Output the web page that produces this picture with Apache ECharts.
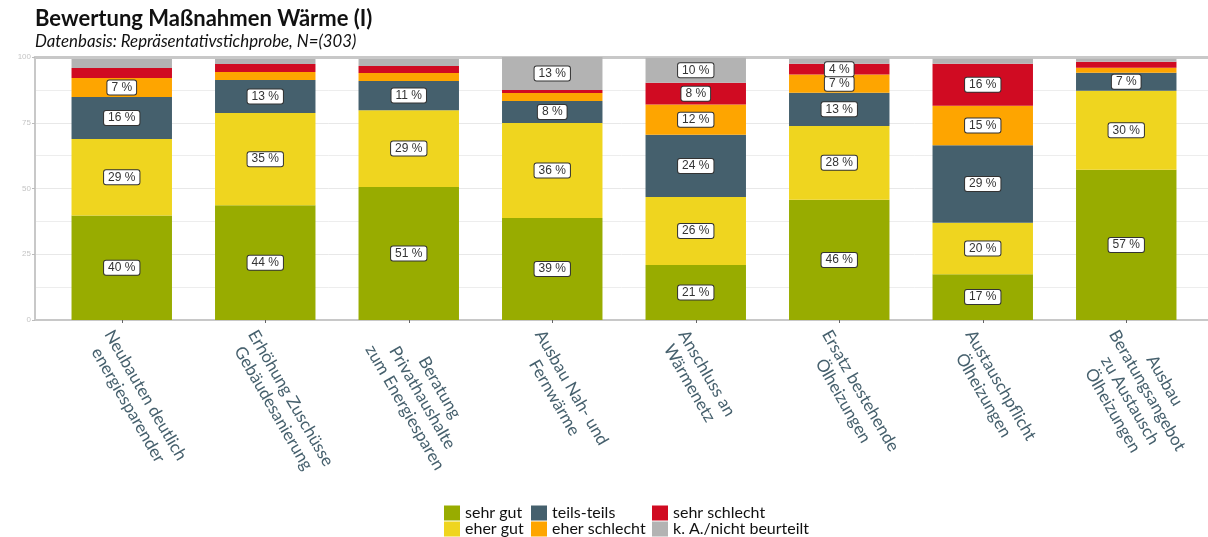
<!DOCTYPE html>
<html>
<head>
<meta charset="utf-8">
<script src="https://cdn.jsdelivr.net/npm/echarts@6/dist/echarts.min.js"></script>
<style>
  html, body { margin: 0; padding: 0; background: #fff; }
  #chart { width: 1208px; height: 537px; }
</style>
</head>
<body>
<div id="chart"></div>
<script>
const categories = [
  'Neubauten deutlich\nenergiesparender',
  'Erhöhung Zuschüsse\nGebäudesanierung',
  'Beratung\nPrivathaushalte\nzum Energiesparen',
  'Ausbau Nah- und\nFernwärme',
  'Anschluss an\nWärmenetz',
  'Ersatz bestehende\nÖlheizungen',
  'Austauschpflicht\nÖlheizungen',
  'Ausbau\nBeratungsangebot\nzu Austausch\nÖlheizungen'
];

// Anteile in %
const sehrGut      = [39.7, 43.6, 50.6, 38.8, 20.9, 45.7, 17.4, 57.1];
const eherGut      = [29.1, 35.1, 29.2, 36.1, 25.9, 28.1, 19.6, 30.1];
const teilsTeils   = [16.0, 12.6, 11.1,  8.4, 23.6, 12.6, 29.4,  6.8];
const eherSchlecht = [ 7.2,  3.0,  3.0,  3.0, 11.5,  6.9, 15.1,  1.9];
const sehrSchlecht = [ 3.8,  3.0,  2.7,  1.2,  8.3,  4.1, 15.9,  2.3];
const keineAngabe  = [ 3.4,  1.9,  2.6, 12.5,  9.5,  1.9,  1.9,  1.1];

const yTicks = [0, 25, 50, 75, 100];

const seriesDefs = [
  { name: 'sehr gut', data: sehrGut, color: '#98ac00' },
  { name: 'eher gut', data: eherGut, color: '#efd51f' },
  { name: 'teils-teils', data: teilsTeils, color: '#45606d' },
  { name: 'eher schlecht', data: eherSchlecht, color: '#fea500' },
  { name: 'sehr schlecht', data: sehrSchlecht, color: '#d00b22' },
  { name: 'k. A./nicht beurteilt', data: keineAngabe, color: '#b3b3b3' }
];

const chart = echarts.init(document.getElementById('chart'));

const series = seriesDefs.map(function (s) {
  return {
    name: s.name,
    type: 'bar',
    stack: 'total',
    xAxisIndex: 2,
    yAxisIndex: 1,
    barCategoryGap: '30%',
    itemStyle: { color: s.color },
    label: {
      position: 'inside',
      formatter: function (p) { return Math.round(p.value) + ' %'; },
      color: '#333',
      fontFamily: 'Liberation Sans',
      fontSize: 12,
      backgroundColor: '#fff',
      borderColor: '#333',
      borderWidth: 1,
      borderRadius: 2,
      padding: [1, 4, 1, 4]
    },
    data: s.data.map(function (v) {
      return { value: v, label: { show: v >= 4 } };
    })
  };
});

function legendBlock(left, names) {
  return {
    orient: 'vertical',
    left: left,
    top: 505,
    padding: 0,
    itemGap: 0,
    itemWidth: 16,
    itemHeight: 15,
    icon: 'rect',
    data: names,
    textStyle: { fontFamily: 'Lato', fontSize: 16, color: '#111', lineHeight: 15 }
  };
}

const gridBox = { top: 57, bottom: 217 };

const option = {
  backgroundColor: '#fff',
  animation: false,
  title: {
    text: 'Bewertung Maßnahmen Wärme (I)',
    subtext: 'Datenbasis: Repräsentativstichprobe, N=(303)',
    left: 30,
    top: 3,
    itemGap: 3,
    textStyle: { fontFamily: 'Lato', fontWeight: 'bold', fontSize: 22, color: '#111' },
    subtextStyle: { fontFamily: 'Lato', fontStyle: 'italic', fontSize: 16.8, color: '#111' }
  },
  legend: [
    legendBlock(444, ['sehr gut', 'eher gut']),
    legendBlock(531, ['teils-teils', 'eher schlecht']),
    legendBlock(652, ['sehr schlecht', 'k. A./nicht beurteilt'])
  ],
  grid: [
    { left: 35, right: 0, top: gridBox.top, bottom: gridBox.bottom },
    { left: 50, right: 10, top: gridBox.top, bottom: gridBox.bottom }
  ],
  xAxis: [
    {
      type: 'value', gridIndex: 0, position: 'bottom',
      axisLine: { show: true, onZero: false, lineStyle: { color: '#c8c8c8', width: 2 } },
      axisTick: { show: false }, axisLabel: { show: false }, splitLine: { show: false }
    },
    {
      type: 'value', gridIndex: 0, position: 'top',
      axisLine: { show: true, onZero: false, lineStyle: { color: '#c8c8c8', width: 3 } },
      axisTick: { show: false }, axisLabel: { show: false }, splitLine: { show: false }
    },
    {
      type: 'category',
      gridIndex: 1,
      data: categories,
      axisLine: { show: false },
      axisTick: { show: true, alignWithLabel: true, length: 3, lineStyle: { color: '#666' } },
      axisLabel: {
        interval: 0,
        rotate: -60,
        margin: 4,
        padding: [50, 0, 0, 0],
        formatter: function (v) {
          return v.split('\n').map(function (l) { return '{c|' + l + '}'; }).join('\n');
        },
        rich: {
          c: { align: 'center', fontFamily: 'Lato', fontSize: 17, lineHeight: 20, color: '#46606d' }
        }
      }
    }
  ],
  yAxis: [
    {
      type: 'value',
      gridIndex: 0,
      min: yTicks[0],
      max: yTicks[yTicks.length - 1],
      interval: 25,
      axisLine: { show: true, lineStyle: { color: '#c8c8c8', width: 2 } },
      axisTick: { show: true, length: 3, lineStyle: { color: '#bbb' } },
      axisLabel: { fontSize: 8, color: '#c4c4c4', margin: 4, fontFamily: 'Liberation Sans' },
      splitLine: { lineStyle: { color: '#e8e8e8' } },
      minorTick: { show: false, splitNumber: 2 },
      minorSplitLine: { show: true, lineStyle: { color: '#ededed' } }
    },
    {
      type: 'value',
      gridIndex: 1,
      min: yTicks[0],
      max: yTicks[yTicks.length - 1],
      show: false
    }
  ],
  series: series
};

chart.setOption(option);
</script>
</body>
</html>
